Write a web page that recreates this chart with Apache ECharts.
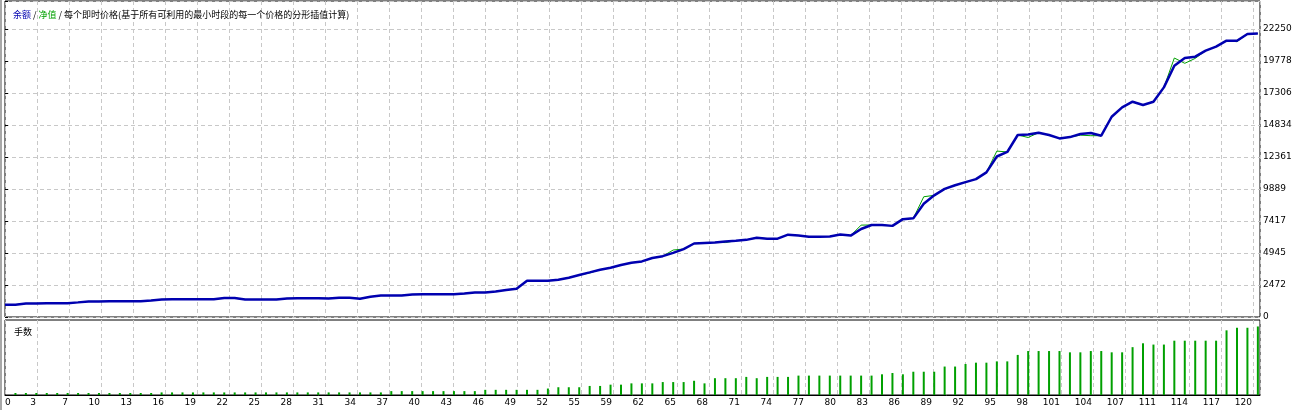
<!DOCTYPE html>
<html><head><meta charset="utf-8">
<script src="https://cdn.jsdelivr.net/npm/echarts@6/dist/echarts.min.js"></script>
<style>html,body{margin:0;padding:0;background:#fff}#c{width:1295px;height:410px}</style>
</head><body><div id="c"></div>
<script>
const xLabels = ['0','3','7','10','13','16','19','22','25','28','31','34','37','40','43','46','49','52','55','59','62','65','68','71','74','77','80','83','86','89','92','95','98','101','104','107','111','114','117','120'];
const yLabels = ['0','2472','4945','7417','9889','12361','14834','17306','19778','22250'];
const titleBalance = '余额';
const titleEquity = '净值';
const titleRest = '每个即时价格(基于所有可利用的最小时段的每一个价格的分形插值计算)';
const titleLots = '手数';

// balance per trade 0..120
const balance = [
 950,955,1050,1052,1055,1058,1060,1130,1205,1207,
 1209,1211,1213,1215,1283,1360,1362,1364,1366,1368,
 1370,1468,1465,1350,1355,1358,1360,1437,1440,1442,
 1445,1437,1491,1491,1414,1568,1661,1663,1665,1746,
 1748,1750,1752,1755,1823,1900,1902,1978,2086,2186,
 2804,2806,2808,2882,3036,3245,3446,3654,3809,4017,
 4195,4296,4560,4700,4950,5250,5680,5720,5760,5841,
 5895,5960,6127,6050,6050,6359,6300,6204,6204,6220,
 6370,6290,6800,7108,7108,7040,7560,7620,8750,9400,
 9900,10180,10420,10650,11172,12400,12750,14061,14108,14239,
 14061,13799,13900,14138,14220,14007,15470,16196,16634,16379,
 16634,17740,19415,20010,20110,20574,20883,21347,21347,21865,
 21911];
// equity per trade 0..120
const equity = [
 950,955,1050,1052,1055,1058,1060,1130,1205,1207,
 1209,1211,1213,1215,1283,1360,1362,1364,1366,1368,
 1370,1468,1465,1350,1355,1358,1360,1437,1440,1442,
 1445,1437,1491,1491,1414,1568,1661,1663,1665,1746,
 1748,1750,1752,1755,1800,1900,1902,1978,2086,2186,
 2804,2806,2808,2882,3036,3245,3400,3654,3809,4017,
 4195,4296,4560,4700,5175,5250,5680,5720,5760,5750,
 5895,5960,6127,6050,6050,6359,6300,6204,6204,6220,
 6370,6290,7100,7108,7108,7040,7560,7620,9290,9400,
 9900,10180,10420,10650,11172,12820,12750,14061,13870,14239,
 14061,13799,13900,14050,14007,14007,15470,16196,16634,16379,
 16634,17740,20010,19600,19980,20574,20883,21347,21270,21865,
 21911];
// lots for trades 1..120
const lots = [
 0.01,0.01,0.01,0.01,0.01,0.01,0.01,0.01,0.01,0.01,
 0.01,0.01,0.01,0.01,0.02,0.02,0.02,0.02,0.02,0.02,
 0.02,0.02,0.02,0.02,0.02,0.02,0.02,0.02,0.02,0.02,
 0.02,0.02,0.02,0.02,0.02,0.02,0.03,0.03,0.03,0.03,
 0.03,0.03,0.03,0.03,0.03,0.04,0.04,0.04,0.04,0.04,
 0.04,0.05,0.06,0.06,0.06,0.07,0.07,0.08,0.08,0.09,
 0.09,0.09,0.10,0.10,0.10,0.11,0.09,0.13,0.13,0.13,
 0.14,0.13,0.14,0.14,0.14,0.15,0.15,0.15,0.15,0.15,
 0.15,0.15,0.15,0.16,0.17,0.16,0.18,0.18,0.18,0.22,
 0.22,0.24,0.25,0.25,0.26,0.26,0.31,0.34,0.34,0.34,
 0.34,0.33,0.33,0.34,0.34,0.33,0.33,0.37,0.40,0.39,
 0.39,0.42,0.42,0.42,0.42,0.42,0.50,0.52,0.52,0.53];

const X_INT = 3.065, X_MAX = 120.205;
const Y_INT = 22250 / 9, Y_MAX = 24414;
const BLUE = '#0000b0', GREEN = '#00a000';
const FONT = 'DejaVu Sans', CJK = 'Noto Sans CJK SC';
const GRIDC = '#c8c8c8';

function xFmt(v) {
  const k = Math.round(v / X_INT);
  return (Math.abs(v - k * X_INT) < 1e-3 && k < xLabels.length) ? xLabels[k] : '';
}
function yFmt(v) {
  const k = Math.round(v / Y_INT);
  return (Math.abs(v - k * Y_INT) < 0.5 && k < yLabels.length) ? yLabels[k] : '';
}

const chart = echarts.init(document.getElementById('c'), null, {renderer: 'canvas'});
const split = {show: true, lineStyle: {color: GRIDC, type: [4, 3], width: 1}};
chart.setOption({
  animation: false,
  backgroundColor: '#fff',
  textStyle: {fontFamily: FONT},
  title: [
    {text: '{b|' + titleBalance + '} / {g|' + titleEquity + '} / ' + titleRest, left: 8, top: 5,
     textStyle: {fontSize: 9, fontWeight: 'normal', color: '#000', fontFamily: CJK,
       rich: {b: {color: BLUE, fontSize: 9, fontFamily: CJK}, g: {color: GRIDC === '' ? GREEN : GREEN, fontSize: 9, fontFamily: CJK}}}},
    {text: titleLots, left: 9, top: 322,
     textStyle: {fontSize: 9, fontWeight: 'normal', color: '#000', fontFamily: CJK}}
  ],
  graphic: [{type: 'rect', shape: {x: 0, y: 0, width: 2, height: 410}, style: {fill: '#a8a8a8'}, silent: true}],
  grid: [
    {left: 5, top: 1, width: 1255, height: 316, show: true, borderColor: '#000', borderWidth: 1, containLabel: false},
    {left: 5, top: 320, width: 1255, height: 75, show: true, borderColor: '#000', borderWidth: 1, containLabel: false}
  ],
  xAxis: [
    {type: 'value', gridIndex: 0, min: 0, max: X_MAX, interval: X_INT,
     axisLine: {show: false}, axisTick: {show: false}, axisLabel: {show: false}, splitLine: split},
    {type: 'value', gridIndex: 1, min: 0, max: X_MAX, interval: X_INT,
     axisLine: {show: true, lineStyle: {color: '#000'}}, axisTick: {show: false},
     axisLabel: {show: true, formatter: xFmt, color: '#000', fontSize: 9, fontFamily: FONT,
       margin: 3, align: 'right', alignMinLabel: 'left', padding: [0, 1, 0, 0]},
     splitLine: split}
  ],
  yAxis: [
    {type: 'value', gridIndex: 0, position: 'right', min: 0, max: Y_MAX, interval: Y_INT,
     axisLine: {show: false}, axisTick: {show: true, length: 3, lineStyle: {color: '#000'}},
     axisLabel: {show: true, formatter: yFmt, color: '#000', fontSize: 9, fontFamily: FONT, margin: 3},
     splitLine: split},
    {type: 'value', gridIndex: 1, min: 0, max: 0.58,
     axisLine: {show: false}, axisTick: {show: false}, axisLabel: {show: false}, splitLine: {show: false}}
  ],
  series: [
    {type: 'line', name: titleEquity, xAxisIndex: 0, yAxisIndex: 0, data: equity.map((v, i) => [i, v]),
     symbol: 'none', lineStyle: {color: GREEN, width: 1}, itemStyle: {color: GREEN}, z: 2},
    {type: 'line', name: titleBalance, xAxisIndex: 0, yAxisIndex: 0, data: balance.map((v, i) => [i, v]),
     symbol: 'none', lineStyle: {color: BLUE, width: 2.5}, itemStyle: {color: BLUE}, z: 3},
    {type: 'bar', name: titleLots, xAxisIndex: 1, yAxisIndex: 1, data: lots.map((v, i) => [i + 1, v]),
     barWidth: 2, barMinHeight: 2, itemStyle: {color: GREEN}}
  ]
});
</script>
</body></html>
